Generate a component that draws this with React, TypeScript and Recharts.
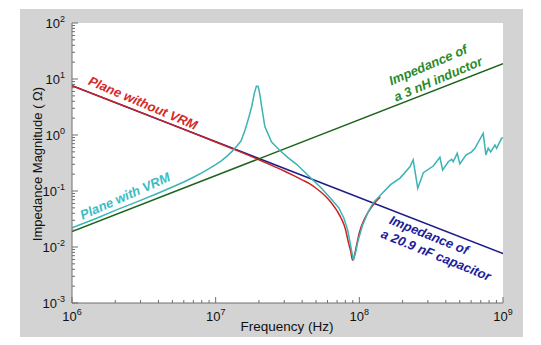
import { LineChart, Line, XAxis, YAxis, CartesianGrid } from 'recharts';

// impedance of the ideal parts (straight lines on log-log)
const capFreq = [1e6, 1e9];
const capZ = [7.62, 0.0076];
const indFreq = [1e6, 1e9];
const indZ = [0.0188, 18.8];

// plane without VRM
const noVrmFreq = [
  1e6, 2e6, 4e6, 7e6, 1e7, 1.5e7, 2e7, 2.5e7, 3e7, 3.5e7, 4e7, 4.5e7, 5e7, 5.5e7, 6e7, 6.5e7, 7e7,
  7.5e7, 8e7, 8.4e7, 8.7e7, 8.97e7, 9.2e7, 9.5e7, 1e8, 1.1e8, 1.2e8, 1.3e8, 1.4e8,
];
const noVrmZ = [
  7.62, 3.81, 1.9, 1.08, 0.752, 0.494, 0.362, 0.281, 0.228, 0.188, 0.158, 0.135, 0.112, 0.092, 0.074,
  0.058, 0.044, 0.032, 0.021, 0.012, 0.0085, 0.0058, 0.0068, 0.0098, 0.018, 0.034, 0.049, 0.064, 0.078,
];

// plane with VRM
const vrmFreq = [
  1e6, 1.5e6, 2e6, 3e6, 4e6, 5e6, 6e6, 7e6, 8e6, 9e6, 1e7, 1.1e7, 1.2e7, 1.3e7, 1.4e7, 1.5e7, 1.6e7,
  1.7e7, 1.78e7, 1.86e7, 1.92e7, 1.97e7, 2e7, 2.05e7, 2.09e7, 2.2e7, 2.45e7, 2.8e7, 3.2e7, 3.66e7,
  4.5e7, 5.5e7, 6.5e7, 7.2e7, 7.8e7, 8.3e7, 8.7e7, 9.1e7, 9.4e7, 9.8e7, 1.05e8, 1.15e8, 1.25e8,
  1.39e8, 1.65e8, 1.92e8, 2.25e8, 2.37e8, 2.55e8, 2.79e8, 3.27e8, 3.64e8, 3.8e8, 4.16e8, 4.39e8,
  4.5e8, 4.8e8, 5.01e8, 5.52e8, 6.05e8, 6.37e8, 7.28e8, 7.6e8, 7.89e8, 8.2e8, 8.79e8, 9.02e8,
  9.77e8, 1e9,
];
const vrmZ = [
  0.022, 0.033, 0.045, 0.068, 0.092, 0.118, 0.145, 0.176, 0.21, 0.25, 0.295, 0.35, 0.42, 0.51, 0.63,
  0.78, 1.22, 2.05, 3.2, 5.6, 7.4, 7.4, 6.5, 4.5, 3.2, 1.41, 0.75, 0.53, 0.39, 0.3,
  0.18, 0.11, 0.068, 0.05, 0.033, 0.02, 0.0105, 0.0058, 0.0078, 0.013, 0.024, 0.042, 0.062,
  0.082, 0.13, 0.17, 0.27, 0.36, 0.112, 0.212, 0.279, 0.4, 0.237, 0.333, 0.368,
  0.333, 0.471, 0.303, 0.44, 0.5, 0.58, 1.07, 0.44, 0.58, 0.5, 0.66, 0.58,
  0.87, 0.9,
];

const xMajor = [1e6, 1e7, 1e8, 1e9];
const yMajor = [1e-3, 1e-2, 1e-1, 1, 10, 100];
const minorSteps = [2, 3, 4, 5, 6, 7, 8, 9];

const toRows = (fs: number[], zs: number[]) => fs.map((f, i) => ({ f, z: zs[i] }));
const withMinors = (majors: number[]) => [
  ...majors,
  ...majors.slice(0, -1).flatMap((m) => minorSteps.map((s) => s * m)),
];
const xTicks = withMinors(xMajor);
const yTicks = withMinors(yMajor);

const FONT = '"Liberation Sans", Arial, sans-serif';
const TICK = '#6e6e6e';

const pow = (v: number) => Math.round(Math.log10(v));

function BottomTick({ x, y, payload }: any) {
  const major = xMajor.includes(payload.value);
  return (
    <g>
      <line x1={x} x2={x} y1={y} y2={y - (major ? 6 : 3)} stroke={TICK} />
      {major && (
        <text x={x} y={y + 18} textAnchor="middle" fontFamily={FONT} fontSize={13} fill="#111">
          10<tspan dy={-6} fontSize={9}>{pow(payload.value)}</tspan>
        </text>
      )}
    </g>
  );
}

function TopTick({ x, y, payload }: any) {
  const major = xMajor.includes(payload.value);
  return <line x1={x} x2={x} y1={y} y2={y + (major ? 6 : 3)} stroke={TICK} />;
}

function LeftTick({ x, y, payload }: any) {
  const major = yMajor.includes(payload.value);
  return (
    <g>
      <line x1={x} x2={x + (major ? 6 : 3)} y1={y} y2={y} stroke={TICK} />
      {major && (
        <text x={x - 7} y={y + 4.5} textAnchor="end" fontFamily={FONT} fontSize={13} fill="#111">
          10<tspan dy={-6} fontSize={9}>{pow(payload.value)}</tspan>
        </text>
      )}
    </g>
  );
}

function RightTick({ x, y, payload }: any) {
  const major = yMajor.includes(payload.value);
  return <line x1={x} x2={x - (major ? 6 : 3)} y1={y} y2={y} stroke={TICK} />;
}

function Note({ x, y, angle, color, children }: any) {
  return (
    <text
      x={x}
      y={y}
      transform={`rotate(${angle} ${x} ${y})`}
      textAnchor="middle"
      dominantBaseline="central"
      fontFamily={FONT}
      fontSize={13}
      fontWeight="bold"
      fontStyle="italic"
      fill={color}
    >
      {children}
    </text>
  );
}

export default function App() {
  return (
    <div style={{ position: 'absolute', left: 0, top: 0, width: 541, height: 345, background: '#fff' }}>
      <div style={{ position: 'absolute', left: 20, top: 9, width: 503, height: 328, background: '#d3d3d3' }} />
      <div style={{ position: 'absolute', left: 0, top: 0 }}>
        <LineChart width={541} height={345} margin={{ top: 23, right: 38, left: 32, bottom: 12 }}>
          <CartesianGrid horizontal={false} vertical={false} fill="#fff" />
          <XAxis
            dataKey="f"
            type="number"
            scale="log"
            domain={[1e6, 1e9]}
            allowDataOverflow
            ticks={xTicks}
            interval={0}
            tickSize={0}
            tickMargin={0}
            height={30}
            stroke={TICK}
            tick={<BottomTick />}
          />
          <XAxis
            xAxisId="top"
            orientation="top"
            dataKey="f"
            type="number"
            scale="log"
            domain={[1e6, 1e9]}
            allowDataOverflow
            ticks={xTicks}
            interval={0}
            tickSize={0}
            height={0}
            stroke={TICK}
            tick={<TopTick />}
          />
          <YAxis
            dataKey="z"
            type="number"
            scale="log"
            domain={[1e-3, 100]}
            allowDataOverflow
            ticks={yTicks}
            interval={0}
            tickSize={0}
            tickMargin={0}
            width={40}
            stroke={TICK}
            tick={<LeftTick />}
          />
          <YAxis
            yAxisId="right"
            orientation="right"
            dataKey="z"
            type="number"
            scale="log"
            domain={[1e-3, 100]}
            allowDataOverflow
            ticks={yTicks}
            interval={0}
            tickSize={0}
            width={0}
            stroke={TICK}
            tick={<RightTick />}
          />
          <Line data={toRows(capFreq, capZ)} dataKey="z" stroke="#1c1c8c" strokeWidth={1.5} dot={false} isAnimationActive={false} />
          <Line type="monotone" data={toRows(noVrmFreq, noVrmZ)} dataKey="z" stroke="#cc2222" strokeWidth={1.5} dot={false} isAnimationActive={false} />
          <Line data={toRows(indFreq, indZ)} dataKey="z" stroke="#1d641d" strokeWidth={1.5} dot={false} isAnimationActive={false} />
          <Line data={toRows(vrmFreq, vrmZ)} dataKey="z" stroke="#3ab4b4" strokeWidth={1.5} dot={false} isAnimationActive={false} />
        </LineChart>
      </div>
      <svg width={541} height={345} style={{ position: 'absolute', left: 0, top: 0, pointerEvents: 'none' }}>
        <text x={37} y={164} transform="rotate(-90 37 164)" textAnchor="middle" dominantBaseline="central" fontFamily={FONT} fontSize={13} fill="#111">
          Impedance Magnitude ( Ω)
        </text>
        <text x={287} y={326} textAnchor="middle" dominantBaseline="central" fontFamily={FONT} fontSize={13.5} fill="#111">
          Frequency (Hz)
        </text>
        <Note x={143} y={103} angle={23} color="#d42a2a">Plane without VRM</Note>
        <Note x={125} y={196} angle={-24} color="#3bbcc4">Plane with VRM</Note>
        <Note x={428} y={65} angle={-23} color="#2a8a2a">Impedance of</Note>
        <Note x={438} y={79} angle={-23} color="#2a8a2a">a 3 nH inductor</Note>
        <Note x={429} y={235} angle={22} color="#1c1c9c">Impedance of</Note>
        <Note x={436} y={255} angle={22} color="#1c1c9c">a 20.9 nF capacitor</Note>
      </svg>
    </div>
  );
}
